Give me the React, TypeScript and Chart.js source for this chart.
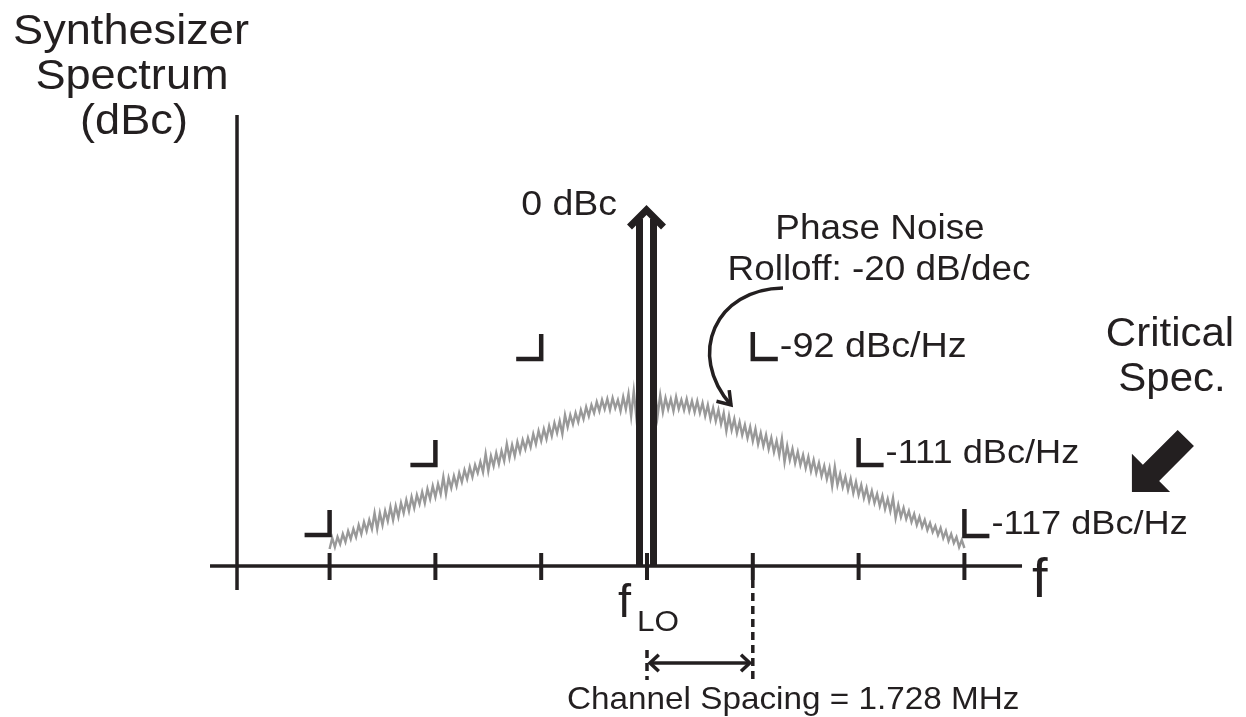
import React, { useEffect, useRef } from "react";
import { Chart, registerables } from "chart.js";

Chart.register(...registerables);

// ---------------- data ----------------
// x in MHz offset from f_LO, y in display level units above the f axis
const CHANNEL_SPACING_MHZ = 1.728;
const TICK_OFFSETS_MHZ = [-5.184, -3.456, -1.728, 0, 1.728, 3.456, 5.184];
const MARKER_OFFSETS_MHZ = [-5.184, -3.456, -1.728, 1.728, 3.456, 5.184];
const MARKER_LEVELS = [31, 101, 207, 207, 101, 30];
const MARKER_LABELS = ["", "", "", "-92 dBc/Hz", "-111 dBc/Hz", "-117 dBc/Hz"];
const CARRIER_LEVEL = 361;
const CARRIER_LABEL = "0 dBc";
const F_AXIS_RANGE = [-7.137, 6.125];
const LEVEL_AXIS_AT = -6.696;
const LEVEL_AXIS_RANGE = [-24, 451];
const TICK_SPAN = [-14, 13];
const NOISE_START_MHZ = -5.184;
const NOISE_STEP_MHZ = 0.0432;
const NOISE_LEVELS = [
  17, 28, 19, 29, 22, 32, 24, 35, 27, 37,
  29, 41, 32, 44, 35, 46, 37, 53, 37, 53,
  41, 55, 45, 59, 46, 60, 49, 63, 53, 66,
  55, 69, 58, 71, 62, 74, 63, 77, 67, 80,
  69, 82, 72, 89, 72, 88, 78, 90, 80, 93,
  84, 96, 87, 99, 89, 101, 93, 104, 94, 112,
  95, 110, 100, 113, 102, 115, 105, 122, 108, 121,
  110, 124, 114, 126, 117, 128, 119, 132, 122, 135,
  125, 137, 127, 140, 130, 143, 133, 145, 132, 151,
  139, 151, 142, 153, 144, 156, 147, 159, 150, 161,
  153, 164,
  155, 166, 157, 167, 156, 168, 158, 166, 155, 169,
  157, 172, 150, 175, 148, 170, 152, 168, 156, 174,
  149, 176, 150, 171, 154, 168, 157, 167, 155, 169,
  157, 166, 156, 167, 155, 165, 154,
  165, 153, 163, 150, 161, 147, 158, 145, 156, 142,
  153, 135, 150, 136, 147, 133, 144, 131, 141, 128,
  139, 125, 137, 122, 133, 120, 131, 117, 128, 114,
  125, 111, 127, 104, 120, 106, 117, 103, 114, 101,
  111, 98, 109, 95, 106, 93, 103, 90, 100, 87,
  98, 80, 99, 81, 92, 79, 89, 76, 87, 73,
  84, 71, 81, 68, 78, 65, 75, 63, 72, 60,
  70, 57, 67, 55, 68, 48, 61, 49, 58, 47,
  55, 44, 52, 41, 49, 39, 46, 36, 43, 34,
  40, 31, 38, 28, 35, 25, 32, 23, 29, 19,
  26, 18,
];

// ---------------- style ----------------
const INK = "#231f20";
const NOISE_COLOR = "#999999";
const FONT = '"Liberation Sans", Arial, Helvetica, sans-serif';
const ARM = 25; // marker arm length in px
const MARKER_LABEL_SIZES = [0, 0, 0, 35, 33.5, 33.5];

function App() {
  const ref = useRef<HTMLCanvasElement>(null);

  useEffect(() => {
    const canvas = ref.current!;
    const xPerPx = 1 / 61.23;

    const gap = (x: number) => ({ x, y: null as any });

    const tickData: any[] = [];
    TICK_OFFSETS_MHZ.forEach((t) => {
      tickData.push({ x: t, y: TICK_SPAN[1] }, { x: t, y: TICK_SPAN[0] }, gap(t));
    });

    const markerData: any[] = [];
    MARKER_OFFSETS_MHZ.forEach((m, i) => {
      const lv = MARKER_LEVELS[i];
      const ax = ARM * xPerPx;
      if (m < 0) {
        markerData.push({ x: m - ax, y: lv }, { x: m, y: lv }, { x: m, y: lv + ARM }, gap(m));
      } else {
        markerData.push({ x: m, y: lv + ARM + 2 }, { x: m, y: lv }, { x: m + ax, y: lv }, gap(m));
      }
    });

    const lineDs = (data: any[], extra: any = {}) => ({
      type: "line" as const,
      data,
      borderColor: INK,
      borderWidth: 3.5,
      pointRadius: 0,
      fill: false,
      tension: 0,
      spanGaps: false,
      order: 1,
      ...extra,
    });

    const drawText = (
      ctx: CanvasRenderingContext2D,
      s: string,
      x: number,
      y: number,
      size: number,
      align: "left" | "center" | "right" = "left",
      sx = 1.07
    ) => {
      ctx.save();
      ctx.font = `${size}px ${FONT}`;
      ctx.fillStyle = INK;
      ctx.textBaseline = "alphabetic";
      ctx.textAlign = "left";
      const w = ctx.measureText(s).width * sx;
      const left = align === "left" ? x : align === "center" ? x - w / 2 : x - w;
      ctx.translate(left, y);
      ctx.scale(sx, 1);
      ctx.fillText(s, 0, 0);
      ctx.restore();
    };

    const chevron = (
      ctx: CanvasRenderingContext2D,
      tx: number,
      ty: number,
      angle: number,
      len: number,
      spread: number
    ) => {
      ctx.beginPath();
      ctx.moveTo(tx - len * Math.cos(angle - spread), ty - len * Math.sin(angle - spread));
      ctx.lineTo(tx, ty);
      ctx.lineTo(tx - len * Math.cos(angle + spread), ty - len * Math.sin(angle + spread));
      ctx.stroke();
    };

    const diagramPlugin = {
      id: "diagram",
      afterDatasetDraw(chart: any, args: any) {
        if (args.index !== 0) return;
        const ctx: CanvasRenderingContext2D = chart.ctx;
        const X = (v: number) => chart.scales.x.getPixelForValue(v);
        const Y = (v: number) => chart.scales.y.getPixelForValue(v);
        const cx = X(0) - 0.5;
        const y0 = Y(0);
        const yt = Y(CARRIER_LEVEL);
        ctx.save();
        ctx.fillStyle = "#ffffff";
        ctx.fillRect(cx - 3.5, yt + 6, 7, y0 - yt - 6);
        ctx.strokeStyle = INK;
        ctx.lineWidth = 7;
        ctx.lineCap = "butt";
        ctx.beginPath();
        ctx.moveTo(cx - 7, y0);
        ctx.lineTo(cx - 7, yt + 14);
        ctx.moveTo(cx + 7, y0);
        ctx.lineTo(cx + 7, yt + 14);
        ctx.stroke();
        ctx.lineJoin = "miter";
        ctx.beginPath();
        ctx.moveTo(cx - 17, yt + 22);
        ctx.lineTo(cx, yt + 5);
        ctx.lineTo(cx + 17, yt + 22);
        ctx.stroke();
        ctx.restore();
      },
      afterDatasetsDraw(chart: any) {
        const ctx: CanvasRenderingContext2D = chart.ctx;
        const X = (v: number) => chart.scales.x.getPixelForValue(v);
        const Y = (v: number) => chart.scales.y.getPixelForValue(v);
        ctx.save();
        ctx.strokeStyle = INK;
        ctx.fillStyle = INK;
        ctx.lineWidth = 3.5;
        ctx.lineCap = "butt";
        ctx.lineJoin = "miter";

        // channel spacing dimension arrow heads
        const dy = Y(-97);
        const xa = X(0) + 3;
        const xb = X(CHANNEL_SPACING_MHZ) - 3;
        chevron(ctx, xa, dy, Math.PI, 12, 0.75);
        chevron(ctx, xb, dy, 0, 12, 0.75);

        // phase noise curved arrow
        const sx0 = X(2.221), sy0 = Y(278);
        const c1x = X(1.12), c1y = Y(277);
        const c2x = X(0.64), c2y = Y(212);
        const ex = X(1.372), ey = Y(161);
        ctx.beginPath();
        ctx.moveTo(sx0, sy0);
        ctx.bezierCurveTo(c1x, c1y, c2x, c2y, ex, ey);
        ctx.stroke();
        const ang = Math.atan2(ey - c2y, ex - c2x);
        chevron(ctx, ex, ey, ang, 15, 0.6);

        // critical spec arrow (filled)
        const tipX = X(7.92), tipY = Y(74);
        const tailX = X(8.80), tailY = Y(128);
        const L = Math.hypot(tailX - tipX, tailY - tipY);
        const dx = (tailX - tipX) / L, dyy = (tailY - tipY) / L;
        const nx = -dyy, ny = dx;
        const headLen = 27, headHalf = 27, shaftHalf = 11.5;
        const bx = tipX + dx * headLen, by = tipY + dyy * headLen;
        ctx.beginPath();
        ctx.moveTo(tipX, tipY);
        ctx.lineTo(bx + nx * headHalf, by + ny * headHalf);
        ctx.lineTo(bx + nx * shaftHalf, by + ny * shaftHalf);
        ctx.lineTo(tailX + nx * shaftHalf, tailY + ny * shaftHalf);
        ctx.lineTo(tailX - nx * shaftHalf, tailY - ny * shaftHalf);
        ctx.lineTo(bx - nx * shaftHalf, by - ny * shaftHalf);
        ctx.lineTo(bx - nx * headHalf, by - ny * headHalf);
        ctx.closePath();
        ctx.fill();
        ctx.restore();

        // texts
        drawText(ctx, "Synthesizer", 131, 44, 43, "center", 1.05);
        drawText(ctx, "Spectrum", 132, 89, 43, "center", 1.05);
        drawText(ctx, "(dBc)", 134, 134, 43, "center", 1.05);

        drawText(ctx, CARRIER_LABEL, X(0) - 30, Y(CARRIER_LEVEL) + 10, 35, "right");

        drawText(ctx, "Phase Noise", 880, 239, 34.5, "center");
        drawText(ctx, "Rolloff: -20 dB/dec", 879, 280, 34.5, "center");

        MARKER_OFFSETS_MHZ.forEach((m, i) => {
          const label = MARKER_LABELS[i];
          if (!label) return;
          drawText(ctx, label, X(m) + ARM + 2, Y(MARKER_LEVELS[i]) - 2, MARKER_LABEL_SIZES[i], "left", 1.08);
        });

        drawText(ctx, "Critical", 1170, 346, 40, "center", 1.05);
        drawText(ctx, "Spec.", 1172, 391, 40, "center", 1.05);

        drawText(ctx, "f", X(0) - 29, 617, 47, "left", 1.0);
        drawText(ctx, "LO", X(0) - 10, 631, 30, "left", 1.05);

        drawText(ctx, "f", X(F_AXIS_RANGE[1]) + 10, 597, 56, "left", 1.0);

        drawText(ctx, "Channel Spacing = 1.728 MHz", 567, 709, 32, "left", 1.04);
      },
    };

    const chart = new Chart(canvas, {
      type: "line",
      data: {
        datasets: [
          {
            type: "line",
            label: "Phase noise",
            data: NOISE_LEVELS.map((v, i) => ({ x: NOISE_START_MHZ + i * NOISE_STEP_MHZ, y: v })),
            borderColor: NOISE_COLOR,
            borderWidth: 2.4,
            pointRadius: 0,
            tension: 0,
            fill: false,
            order: 10,
          },
          lineDs([
            { x: F_AXIS_RANGE[0], y: 0 },
            { x: F_AXIS_RANGE[1], y: 0 },
          ]),
          lineDs([
            { x: LEVEL_AXIS_AT, y: LEVEL_AXIS_RANGE[1] },
            { x: LEVEL_AXIS_AT, y: LEVEL_AXIS_RANGE[0] },
          ]),
          lineDs(tickData, { borderWidth: 4 }),
          lineDs(markerData, { borderWidth: 4.5 }),
          lineDs(
            [
              { x: 0, y: -84 },
              { x: 0, y: -114 },
              gap(0),
              { x: CHANNEL_SPACING_MHZ, y: -14 },
              { x: CHANNEL_SPACING_MHZ, y: -114 },
            ],
            { borderWidth: 3.5, borderDash: [8, 5] }
          ),
          lineDs(
            [
              { x: 0 + 4 * xPerPx, y: -97 },
              { x: CHANNEL_SPACING_MHZ - 4 * xPerPx, y: -97 },
            ],
            { borderWidth: 3.5 }
          ),
        ],
      },
      options: {
        responsive: false,
        animation: false,
        devicePixelRatio: 1,
        events: [],
        layout: { padding: 0 },
        plugins: { legend: { display: false }, tooltip: { enabled: false } },
        scales: {
          x: { type: "linear", display: false, min: -10.567, max: 9.783 },
          y: { type: "linear", display: false, min: -151, max: 566 },
        },
      },
      plugins: [diagramPlugin],
    } as any);

    return () => chart.destroy();
  }, []);

  return (
    <div style={{ position: "fixed", left: 0, top: 0, width: 1246, height: 717, background: "#ffffff" }}>
      <canvas ref={ref} width={1246} height={717} style={{ display: "block", width: 1246, height: 717 }} />
    </div>
  );
}

export default App;
